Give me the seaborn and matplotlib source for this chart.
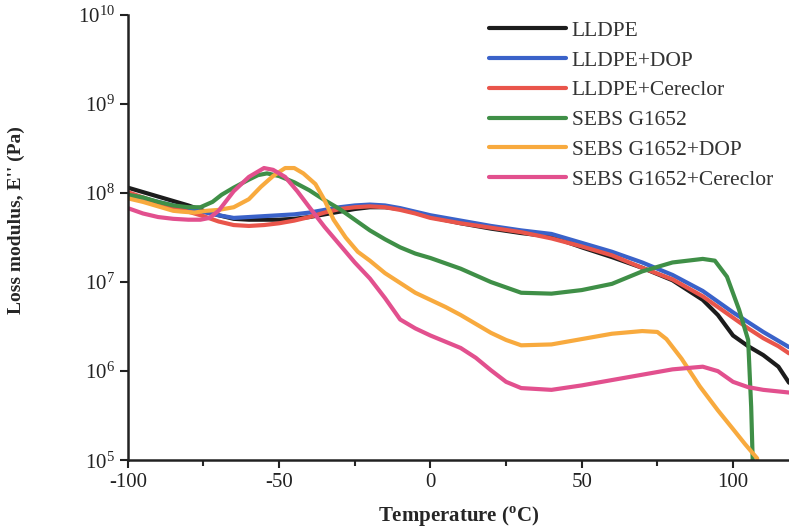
import numpy as np
import pandas as pd
import seaborn as sns
import matplotlib.pyplot as plt
from matplotlib.ticker import LogLocator, LogFormatterMathtext, MultipleLocator

# values: temperature (C) and log10 of E'' (Pa)
t_lldpe = [-100, -95, -90, -85, -80, -75, -70, -65, -60, -55, -50, -45, -40, -35, -30, -25, -20, -15, -10, -5,
           0, 10, 20, 30, 40, 50, 60, 70, 80, 90, 95, 100, 105, 110, 115, 118.5]
e_lldpe = [8.06, 8.01, 7.96, 7.91, 7.86, 7.80, 7.75, 7.71, 7.70, 7.70, 7.70, 7.71, 7.73, 7.76, 7.79, 7.82, 7.84, 7.84, 7.82, 7.78,
           7.73, 7.66, 7.60, 7.55, 7.51, 7.39, 7.28, 7.16, 7.02, 6.80, 6.63, 6.40, 6.28, 6.18, 6.05, 5.87]

t_dop = [-100, -90, -80, -70, -65, -60, -55, -50, -45, -40, -35, -30, -25, -20, -15, -10, -5,
         0, 10, 20, 30, 40, 50, 60, 70, 80, 90, 100, 105, 110, 115, 118.5]
e_dop = [7.98, 7.90, 7.82, 7.75, 7.72, 7.73, 7.74, 7.75, 7.76, 7.78, 7.81, 7.84, 7.86, 7.87, 7.86, 7.83, 7.79,
         7.75, 7.69, 7.63, 7.58, 7.54, 7.44, 7.34, 7.22, 7.08, 6.90, 6.66, 6.55, 6.44, 6.34, 6.27]

t_cer = [-100, -95, -90, -85, -80, -75, -70, -65, -60, -55, -50, -45, -40, -35, -30, -25, -20, -15, -10, -5,
         0, 10, 20, 30, 40, 50, 60, 70, 80, 90, 100, 105, 110, 115, 118.5]
e_cer = [8.01, 7.95, 7.89, 7.83, 7.79, 7.74, 7.68, 7.64, 7.63, 7.64, 7.66, 7.69, 7.73, 7.78, 7.82, 7.84, 7.85, 7.84, 7.81, 7.77,
         7.72, 7.66, 7.61, 7.56, 7.49, 7.40, 7.30, 7.16, 7.03, 6.84, 6.60, 6.48, 6.37, 6.28, 6.20]

t_sebs = [-100, -95, -90, -85, -80, -76, -72, -69, -65, -60, -57, -54, -50, -45, -40, -35, -30, -25, -20, -15, -10, -5,
          0, 10, 20, 30, 40, 50, 60, 70, 80, 90, 94, 98, 102, 105, 106, 106.5]
e_sebs = [7.98, 7.95, 7.90, 7.86, 7.84, 7.84, 7.90, 7.98, 8.06, 8.15, 8.20, 8.22, 8.19, 8.12, 8.03, 7.92, 7.82, 7.70, 7.58, 7.48, 7.39, 7.32,
          7.27, 7.15, 7.00, 6.88, 6.87, 6.91, 6.98, 7.12, 7.22, 7.26, 7.24, 7.06, 6.69, 6.35, 5.60, 5.00]

t_sebs_dop = [-100, -95, -90, -85, -82, -78, -74, -70, -65, -60, -56, -52, -48, -45, -42, -38, -35, -32, -28, -24, -20,
              -15, -10, -5, 0, 5, 10, 15, 20, 25, 30, 40, 50, 60, 70, 75, 78, 83, 89, 95, 100, 104, 108]
e_sebs_dop = [7.94, 7.90, 7.85, 7.80, 7.79, 7.78, 7.80, 7.81, 7.84, 7.93, 8.07, 8.19, 8.28, 8.28, 8.22, 8.10, 7.92, 7.70, 7.50, 7.34, 7.24,
              7.10, 6.99, 6.88, 6.80, 6.72, 6.63, 6.53, 6.43, 6.35, 6.29, 6.30, 6.36, 6.42, 6.45, 6.44, 6.36, 6.14, 5.83, 5.56, 5.35, 5.18, 5.02]

t_sebs_cer = [-100, -95, -90, -85, -80, -76, -73, -70, -65, -60, -55, -52, -48, -44, -40, -35, -30, -25, -20, -15,
              -10, -5, 0, 5, 10, 15, 20, 25, 30, 40, 50, 60, 70, 80, 90, 95, 100, 105, 110, 118.5]
e_sebs_cer = [7.83, 7.77, 7.73, 7.71, 7.70, 7.70, 7.72, 7.80, 8.02, 8.18, 8.28, 8.26, 8.18, 8.02, 7.84, 7.62, 7.42, 7.22, 7.04, 6.82,
              6.58, 6.48, 6.40, 6.33, 6.26, 6.15, 6.01, 5.88, 5.81, 5.79, 5.84, 5.90, 5.96, 6.02, 6.05, 6.00, 5.88, 5.82, 5.79, 5.76]

labels = ["LLDPE", "LLDPE+DOP", "LLDPE+Cereclor", "SEBS G1652", "SEBS G1652+DOP", "SEBS G1652+Cereclor"]
colors = ["#1c1c1c", "#3a62c9", "#e9554b", "#3f8f47", "#f8aa3e", "#e2508e"]
temps = [t_lldpe, t_dop, t_cer, t_sebs, t_sebs_dop, t_sebs_cer]
logs = [e_lldpe, e_dop, e_cer, e_sebs, e_sebs_dop, e_sebs_cer]

frames = []
for lab, t, e in zip(labels, temps, logs):
    frames.append(pd.DataFrame({"T": t, "E": 10 ** np.array(e), "sample": lab}))
df = pd.concat(frames, ignore_index=True)

sns.set_theme(style="ticks")
plt.rcParams['font.family'] = ['Liberation Serif', 'DejaVu Serif']
plt.rcParams['mathtext.fontset'] = 'custom'
plt.rcParams['mathtext.rm'] = 'Liberation Serif'
plt.rcParams['mathtext.bf'] = 'Liberation Serif:bold'
plt.rcParams['axes.unicode_minus'] = False

fig = plt.figure(figsize=(7.89, 5.29), dpi=100)
ax = fig.add_axes([0.162, 0.130, 0.838, 0.842])

sns.lineplot(data=df, x="T", y="E", hue="sample", hue_order=labels,
             palette=dict(zip(labels, colors)), estimator=None, sort=False,
             linewidth=3, ax=ax)

ax.set_yscale("log")
ax.set_xlim(-100, 118.5)
ax.set_ylim(1e5, 1e10)
ax.yaxis.set_major_locator(LogLocator(base=10, numticks=10))
ax.yaxis.set_major_formatter(LogFormatterMathtext())
ax.yaxis.set_minor_locator(plt.NullLocator())
ax.xaxis.set_major_locator(MultipleLocator(50))
ax.xaxis.set_minor_locator(MultipleLocator(25))

sns.despine(ax=ax)
for s in ["left", "bottom"]:
    ax.spines[s].set_linewidth(1.8)
    ax.spines[s].set_color("#222222")
ax.tick_params(axis="both", which="major", direction="out", length=6, width=1.5,
               labelsize=15, colors="#222222")
ax.tick_params(axis="x", which="minor", direction="out", length=4, width=1.5)
ax.tick_params(axis="x", pad=3)

ax.set_xlabel("Temperature ($^{\\mathbf{o}}$C)", fontsize=15, fontweight="bold", labelpad=9)
ax.set_ylabel("Loss modulus, E'' (Pa)", fontsize=14, fontweight="bold")
ax.yaxis.set_label_coords(-0.155, 0.54)

leg = ax.legend(loc="upper right", bbox_to_anchor=(1.005, 1.03), frameon=False,
                handlelength=3.6, handletextpad=0.25, labelspacing=0.45, fontsize=15.5)
for line in leg.get_lines():
    line.set_linewidth(3)
for txt in leg.get_texts():
    txt.set_color("#333333")

plt.savefig("out.png", dpi=100)
